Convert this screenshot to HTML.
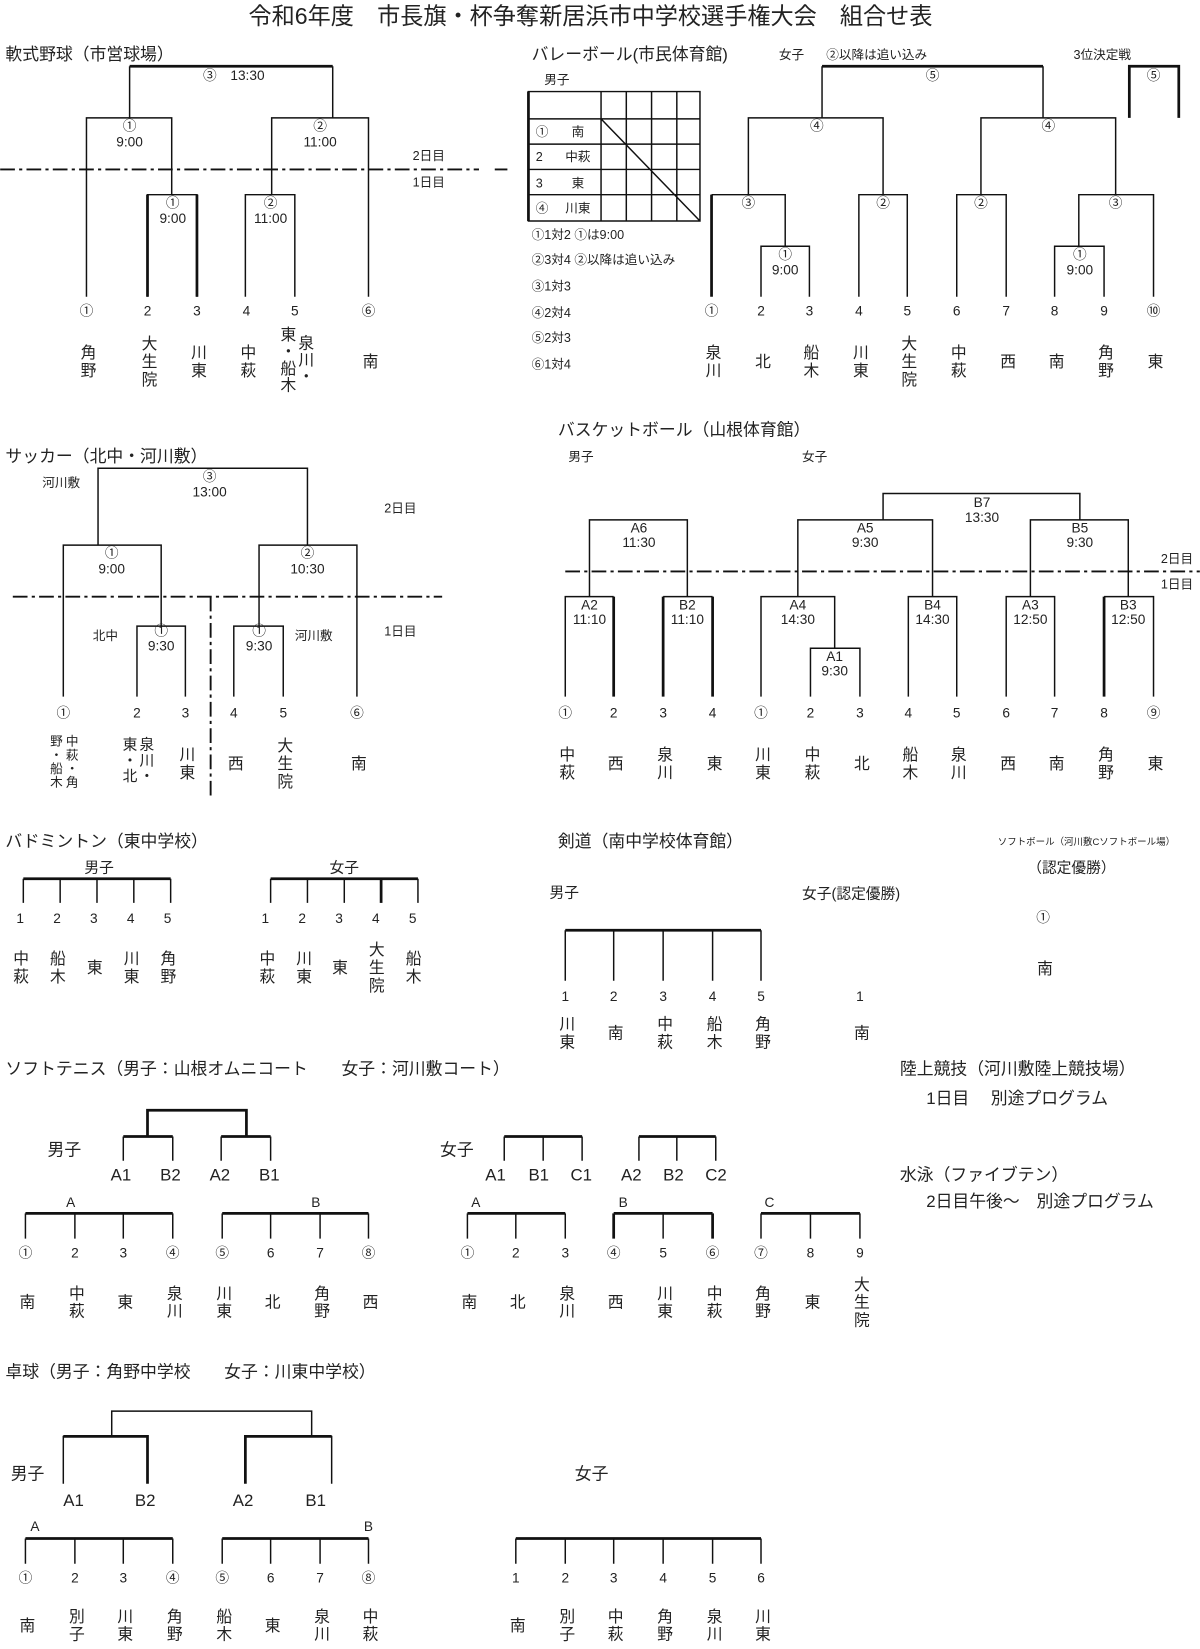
<!DOCTYPE html>
<html><head><meta charset="utf-8"><style>
html,body{margin:0;padding:0;background:#fff;}
svg{display:block;}
text{font-family:"Liberation Sans","Noto Sans CJK JP",sans-serif;fill:#222;}
.h{font-size:16px;}
.s{font-size:12px;}
.t{font-size:13px;text-anchor:middle;}
.n{font-size:13px;text-anchor:middle;}
.v{font-size:15px;writing-mode:vertical-rl;text-anchor:middle;letter-spacing:2px;}
.vs{font-size:12px;writing-mode:vertical-rl;text-anchor:start;letter-spacing:1px;}
.l{fill:none;stroke:#111;stroke-width:1.4;}
.k{fill:none;stroke:#111;stroke-width:2.6;}
.d{fill:none;stroke:#111;stroke-width:1.8;stroke-dasharray:14 4 3 4;}
</style></head><body>
<svg width="1200" height="1649" viewBox="0 0 1140 1567" xmlns="http://www.w3.org/2000/svg">
<text x="236" y="23" style="font-size:22px">令和6年度　市長旗・杯争奪新居浜市中学校選手権大会　組合せ表</text>

<!-- 軟式野球 -->
<text class="h" x="5" y="57">軟式野球（市営球場）</text>
<path class="k" d="M123,63H316"/>
<path class="l" d="M123,63V112M316,63V112"/>
<text class="t" x="222" y="76">③　13:30</text>
<path class="l" d="M82,282V112H163V185M140,282V185H187V282M258,185V112H350V282M233,282V185H280V282"/>
<path class="k" d="M140,185V282M187,185V282"/>
<text class="t" x="123" y="124">①</text><text class="t" x="123" y="139">9:00</text>
<text class="t" x="304" y="124">②</text><text class="t" x="304" y="139">11:00</text>
<text class="t" x="164" y="197">①</text><text class="t" x="164" y="212">9:00</text>
<text class="t" x="257" y="197">②</text><text class="t" x="257" y="212">11:00</text>
<path class="d" d="M0,161H455M470,161H482"/>
<text class="s" x="392" y="152">2日目</text><text class="s" x="392" y="177">1日目</text>
<text class="n" x="82" y="300">①</text><text class="n" x="140" y="300">2</text><text class="n" x="187" y="300">3</text><text class="n" x="234" y="300">4</text><text class="n" x="280" y="300">5</text><text class="n" x="350" y="300">⑥</text>
<text class="v" x="82" y="344">角野</text><text class="v" x="140" y="344">大生院</text><text class="v" x="187" y="344">川東</text><text class="v" x="234" y="344">中萩</text>
<text class="vs" x="272" y="310" style="font-size:15px">東・船木</text><text class="vs" x="289" y="318" style="font-size:15px">泉川・</text>
<text class="v" x="350" y="344">南</text>

<!-- バレーボール -->
<text class="h" x="505" y="57">バレーボール(市民体育館)</text>
<text class="s" x="517" y="80">男子</text>
<text class="s" x="740" y="56">女子</text><text class="s" x="785" y="56">②以降は追い込み</text><text class="s" x="1020" y="56">3位決定戦</text>
<path class="l" d="M502,87H665V210H502ZM502,113H665M502,137H665M502,161H665M502,185H665M571,87V210M595,87V210M619,87V210M643,87V210M571,113L665,210"/>
<path class="k" d="M502,87V210"/>
<text class="s" x="509" y="129">①</text><text class="s" x="543" y="129">南</text>
<text class="s" x="509" y="153">2</text><text class="s" x="537" y="153">中萩</text>
<text class="s" x="509" y="178">3</text><text class="s" x="543" y="178">東</text>
<text class="s" x="509" y="202">④</text><text class="s" x="537" y="202">川東</text>
<text class="s" x="505" y="227">①1対2 ①は9:00</text>
<text class="s" x="505" y="251">②3対4 ②以降は追い込み</text>
<text class="s" x="505" y="276">③1対3</text>
<text class="s" x="505" y="301">④2対4</text>
<text class="s" x="505" y="325">⑤2対3</text>
<text class="s" x="505" y="350">⑥1対4</text>
<path class="k" d="M781,63H991M676,185V282M1073,112V63H1120V112"/>
<path class="l" d="M781,63V112M991,63V112M711,185V112H839V185M676,185H746V234M723,282V234H769V282M816,282V185H862V282M932,185V112H1060V185M909,282V185H956V282M1025,234V185H1096V282M1002,282V234H1049V282"/>
<text class="t" x="886" y="76">⑤</text><text class="t" x="1096" y="76">⑤</text>
<text class="t" x="776" y="124">④</text><text class="t" x="996" y="124">④</text>
<text class="t" x="711" y="197">③</text><text class="t" x="839" y="197">②</text><text class="t" x="932" y="197">②</text><text class="t" x="1060" y="197">③</text>
<text class="t" x="746" y="246">①</text><text class="t" x="746" y="261">9:00</text>
<text class="t" x="1026" y="246">①</text><text class="t" x="1026" y="261">9:00</text>
<text class="n" x="676" y="300">①</text><text class="n" x="723" y="300">2</text><text class="n" x="769" y="300">3</text><text class="n" x="816" y="300">4</text><text class="n" x="862" y="300">5</text><text class="n" x="909" y="300">6</text><text class="n" x="956" y="300">7</text><text class="n" x="1002" y="300">8</text><text class="n" x="1049" y="300">9</text><text class="n" x="1096" y="300">⑩</text>
<text class="v" x="676" y="344">泉川</text><text class="v" x="723" y="344">北</text><text class="v" x="769" y="344">船木</text><text class="v" x="816" y="344">川東</text><text class="v" x="862" y="344">大生院</text><text class="v" x="909" y="344">中萩</text><text class="v" x="956" y="344">西</text><text class="v" x="1002" y="344">南</text><text class="v" x="1049" y="344">角野</text><text class="v" x="1096" y="344">東</text>

<!-- サッカー -->
<text class="h" x="5" y="439">サッカー（北中・河川敷）</text>
<text class="s" x="40" y="463">河川敷</text>
<path class="l" d="M93,518V445H292V518M60,662V518H153V595M130,662V595H176V662M246,595V518H339V662M222,662V595H269V662"/>
<text class="t" x="199" y="457">③</text><text class="t" x="199" y="472">13:00</text>
<text class="t" x="106" y="530">①</text><text class="t" x="106" y="545">9:00</text>
<text class="t" x="292" y="530">②</text><text class="t" x="292" y="545">10:30</text>
<text class="t" x="153" y="604">①</text><text class="t" x="153" y="618">9:30</text>
<text class="t" x="246" y="604">①</text><text class="t" x="246" y="618">9:30</text>
<path class="d" d="M12,567H420M200,567V760"/>
<text class="s" x="365" y="487">2日目</text><text class="s" x="365" y="604">1日目</text>
<text class="s" x="88" y="608">北中</text><text class="s" x="280" y="608">河川敷</text>
<text class="n" x="60" y="682">①</text><text class="n" x="130" y="682">2</text><text class="n" x="176" y="682">3</text><text class="n" x="222" y="682">4</text><text class="n" x="269" y="682">5</text><text class="n" x="339" y="682">⑥</text>
<text class="vs" x="67" y="698">中萩・角</text><text class="vs" x="52" y="698">野・船木</text>
<text class="vs" x="138" y="700" style="font-size:14px">泉川・</text><text class="vs" x="122" y="700" style="font-size:14px">東・北</text>
<text class="v" x="176" y="726">川東</text><text class="v" x="222" y="726">西</text><text class="v" x="269" y="726">大生院</text><text class="v" x="339" y="726">南</text>

<!-- バスケットボール -->
<text class="h" x="530" y="414">バスケットボール（山根体育館）</text>
<text class="s" x="540" y="438">男子</text><text class="s" x="762" y="438">女子</text>
<path class="l" d="M560,567V494H653V567M537,662V567H583M630,567H677M839,494V469H1026V494M758,567V494H886V567M723,662V567H793V616M770,662V616H817V662M863,662V567H909V662M979,567V494H1072V567M956,662V567H1002V662M1049,567H1096V662"/>
<path class="k" d="M583,567V662M630,567V662M677,567V662M1049,567V662"/>
<text class="t" x="607" y="506">A6</text><text class="t" x="607" y="520">11:30</text>
<text class="t" x="560" y="579">A2</text><text class="t" x="560" y="593">11:10</text>
<text class="t" x="653" y="579">B2</text><text class="t" x="653" y="593">11:10</text>
<text class="t" x="933" y="482">B7</text><text class="t" x="933" y="496">13:30</text>
<text class="t" x="822" y="506">A5</text><text class="t" x="822" y="520">9:30</text>
<text class="t" x="1026" y="506">B5</text><text class="t" x="1026" y="520">9:30</text>
<text class="t" x="758" y="579">A4</text><text class="t" x="758" y="593">14:30</text>
<text class="t" x="886" y="579">B4</text><text class="t" x="886" y="593">14:30</text>
<text class="t" x="979" y="579">A3</text><text class="t" x="979" y="593">12:50</text>
<text class="t" x="1072" y="579">B3</text><text class="t" x="1072" y="593">12:50</text>
<text class="t" x="793" y="628">A1</text><text class="t" x="793" y="642">9:30</text>
<path class="d" d="M537,543H1140"/>
<text class="s" x="1103" y="535">2日目</text><text class="s" x="1103" y="559">1日目</text>
<text class="n" x="537" y="682">①</text><text class="n" x="583" y="682">2</text><text class="n" x="630" y="682">3</text><text class="n" x="677" y="682">4</text><text class="n" x="723" y="682">①</text><text class="n" x="770" y="682">2</text><text class="n" x="817" y="682">3</text><text class="n" x="863" y="682">4</text><text class="n" x="909" y="682">5</text><text class="n" x="956" y="682">6</text><text class="n" x="1002" y="682">7</text><text class="n" x="1049" y="682">8</text><text class="n" x="1096" y="682">⑨</text>
<text class="v" x="537" y="726">中萩</text><text class="v" x="583" y="726">西</text><text class="v" x="630" y="726">泉川</text><text class="v" x="677" y="726">東</text><text class="v" x="723" y="726">川東</text><text class="v" x="770" y="726">中萩</text><text class="v" x="817" y="726">北</text><text class="v" x="863" y="726">船木</text><text class="v" x="909" y="726">泉川</text><text class="v" x="956" y="726">西</text><text class="v" x="1002" y="726">南</text><text class="v" x="1049" y="726">角野</text><text class="v" x="1096" y="726">東</text>

<!-- バドミントン -->
<text class="h" x="5" y="805">バドミントン（東中学校）</text>
<text class="h" x="80" y="829" style="font-size:14px">男子</text><text class="h" x="313" y="829" style="font-size:14px">女子</text>
<path class="k" d="M22,835H162M257,835H397"/>
<path class="l" d="M22,835V858M57,835V858M92,835V858M127,835V858M162,835V858M257,835V858M292,835V858M327,835V858M397,835V858"/>
<path class="k" d="M362,835V858"/>
<text class="n" x="19" y="877">1</text><text class="n" x="54" y="877">2</text><text class="n" x="89" y="877">3</text><text class="n" x="124" y="877">4</text><text class="n" x="159" y="877">5</text>
<text class="n" x="252" y="877">1</text><text class="n" x="287" y="877">2</text><text class="n" x="322" y="877">3</text><text class="n" x="357" y="877">4</text><text class="n" x="392" y="877">5</text>
<text class="v" x="18" y="920">中萩</text><text class="v" x="53" y="920">船木</text><text class="v" x="88" y="920">東</text><text class="v" x="123" y="920">川東</text><text class="v" x="158" y="920">角野</text>
<text class="v" x="252" y="920">中萩</text><text class="v" x="287" y="920">川東</text><text class="v" x="321" y="920">東</text><text class="v" x="356" y="920">大生院</text><text class="v" x="391" y="920">船木</text>

<!-- 剣道 -->
<text class="h" x="530" y="805">剣道（南中学校体育館）</text>
<text class="h" x="522" y="853" style="font-size:14px">男子</text><text class="h" x="762" y="854" style="font-size:14px">女子(認定優勝)</text>
<path class="k" d="M537,884H723"/>
<path class="l" d="M537,884V932M583,884V932M630,884V932M677,884V932M723,884V932"/>
<text class="n" x="537" y="951">1</text><text class="n" x="583" y="951">2</text><text class="n" x="630" y="951">3</text><text class="n" x="677" y="951">4</text><text class="n" x="723" y="951">5</text><text class="n" x="817" y="951">1</text>
<text class="v" x="537" y="982">川東</text><text class="v" x="583" y="982">南</text><text class="v" x="630" y="982">中萩</text><text class="v" x="677" y="982">船木</text><text class="v" x="723" y="982">角野</text><text class="v" x="817" y="982">南</text>

<!-- ソフトボール -->
<text x="948" y="803" style="font-size:9px">ソフトボール（河川敷Cソフトボール場）</text>
<text class="h" x="976" y="829" style="font-size:14px">（認定優勝）</text>
<text class="n" x="991" y="876">①</text>
<text class="v" x="991" y="921">南</text>

<!-- ソフトテニス -->
<text class="h" x="5" y="1021">ソフトテニス（男子：山根オムニコート　　女子：河川敷コート）</text>
<path class="k" d="M140,1080V1055H234V1080M117,1080H164M210,1080H257M479,1080H553M607,1080H680"/>
<path class="l" d="M117,1080V1103M164,1080V1103M210,1080V1103M257,1080V1103M479,1080V1103M516,1080V1103M553,1080V1103M607,1080V1103M643,1080V1103M680,1080V1103"/>
<text class="h" x="45" y="1098">男子</text><text class="h" x="418" y="1098">女子</text>
<text class="h" x="105" y="1122">A1</text><text class="h" x="152" y="1122">B2</text><text class="h" x="199" y="1122">A2</text><text class="h" x="246" y="1122">B1</text>
<text class="h" x="461" y="1122">A1</text><text class="h" x="502" y="1122">B1</text><text class="h" x="542" y="1122">C1</text><text class="h" x="590" y="1122">A2</text><text class="h" x="630" y="1122">B2</text><text class="h" x="670" y="1122">C2</text>
<text class="n" x="67" y="1147">A</text><text class="n" x="300" y="1147">B</text>
<text class="n" x="452" y="1147">A</text><text class="n" x="592" y="1147">B</text><text class="n" x="731" y="1147">C</text>
<path class="k" d="M24,1153H164M211,1153H350M444,1153H537M583,1153H677M723,1153H817"/>
<path class="l" d="M24,1153V1177M71,1153V1177M117,1153V1177M164,1153V1177M211,1153V1177M257,1153V1177M304,1153V1177M350,1153V1177M444,1153V1177M490,1153V1177M537,1153V1177M630,1153V1177M723,1153V1177M770,1153V1177M817,1153V1177"/>
<path class="k" d="M583,1153V1177M677,1153V1177"/>
<text class="n" x="24" y="1195">①</text><text class="n" x="71" y="1195">2</text><text class="n" x="117" y="1195">3</text><text class="n" x="164" y="1195">④</text><text class="n" x="211" y="1195">⑤</text><text class="n" x="257" y="1195">6</text><text class="n" x="304" y="1195">7</text><text class="n" x="350" y="1195">⑧</text>
<text class="n" x="444" y="1195">①</text><text class="n" x="490" y="1195">2</text><text class="n" x="537" y="1195">3</text><text class="n" x="583" y="1195">④</text><text class="n" x="630" y="1195">5</text><text class="n" x="677" y="1195">⑥</text><text class="n" x="723" y="1195">⑦</text><text class="n" x="770" y="1195">8</text><text class="n" x="817" y="1195">9</text>
<text class="v" x="24" y="1238">南</text><text class="v" x="71" y="1238">中萩</text><text class="v" x="117" y="1238">東</text><text class="v" x="164" y="1238">泉川</text><text class="v" x="211" y="1238">川東</text><text class="v" x="257" y="1238">北</text><text class="v" x="304" y="1238">角野</text><text class="v" x="350" y="1238">西</text>
<text class="v" x="444" y="1238">南</text><text class="v" x="490" y="1238">北</text><text class="v" x="537" y="1238">泉川</text><text class="v" x="583" y="1238">西</text><text class="v" x="630" y="1238">川東</text><text class="v" x="677" y="1238">中萩</text><text class="v" x="723" y="1238">角野</text><text class="v" x="770" y="1238">東</text><text class="v" x="817" y="1238">大生院</text>

<!-- 陸上・水泳 -->
<text class="h" x="855" y="1021">陸上競技（河川敷陸上競技場）</text>
<text class="h" x="880" y="1049">1日目　 別途プログラム</text>
<text class="h" x="855" y="1122">水泳（ファイブテン）</text>
<text class="h" x="880" y="1147">2日目午後～　別途プログラム</text>

<!-- 卓球 -->
<text class="h" x="5" y="1309">卓球（男子：角野中学校　　女子：川東中学校）</text>
<path class="l" d="M106,1365V1341H296V1365M60,1410V1365H140M233,1365H315V1410"/>
<path class="k" d="M60,1365H140V1410M233,1410V1365H315"/>
<text class="h" x="10" y="1406">男子</text><text class="h" x="546" y="1406">女子</text>
<text class="h" x="60" y="1431">A1</text><text class="h" x="128" y="1431">B2</text><text class="h" x="221" y="1431">A2</text><text class="h" x="290" y="1431">B1</text>
<text class="n" x="33" y="1455">A</text><text class="n" x="350" y="1455">B</text>
<path class="k" d="M24,1462H164M211,1462H350M490,1462H723"/>
<path class="l" d="M24,1462V1486M71,1462V1486M117,1462V1486M164,1462V1486M211,1462V1486M257,1462V1486M304,1462V1486M350,1462V1486M490,1462V1486M537,1462V1486M583,1462V1486M630,1462V1486M677,1462V1486M723,1462V1486"/>
<text class="n" x="24" y="1504">①</text><text class="n" x="71" y="1504">2</text><text class="n" x="117" y="1504">3</text><text class="n" x="164" y="1504">④</text><text class="n" x="211" y="1504">⑤</text><text class="n" x="257" y="1504">6</text><text class="n" x="304" y="1504">7</text><text class="n" x="350" y="1504">⑧</text>
<text class="n" x="490" y="1504">1</text><text class="n" x="537" y="1504">2</text><text class="n" x="583" y="1504">3</text><text class="n" x="630" y="1504">4</text><text class="n" x="677" y="1504">5</text><text class="n" x="723" y="1504">6</text>
<text class="v" x="24" y="1545">南</text><text class="v" x="71" y="1545">別子</text><text class="v" x="117" y="1545">川東</text><text class="v" x="164" y="1545">角野</text><text class="v" x="211" y="1545">船木</text><text class="v" x="257" y="1545">東</text><text class="v" x="304" y="1545">泉川</text><text class="v" x="350" y="1545">中萩</text>
<text class="v" x="490" y="1545">南</text><text class="v" x="537" y="1545">別子</text><text class="v" x="583" y="1545">中萩</text><text class="v" x="630" y="1545">角野</text><text class="v" x="677" y="1545">泉川</text><text class="v" x="723" y="1545">川東</text>
</svg>
</body></html>
